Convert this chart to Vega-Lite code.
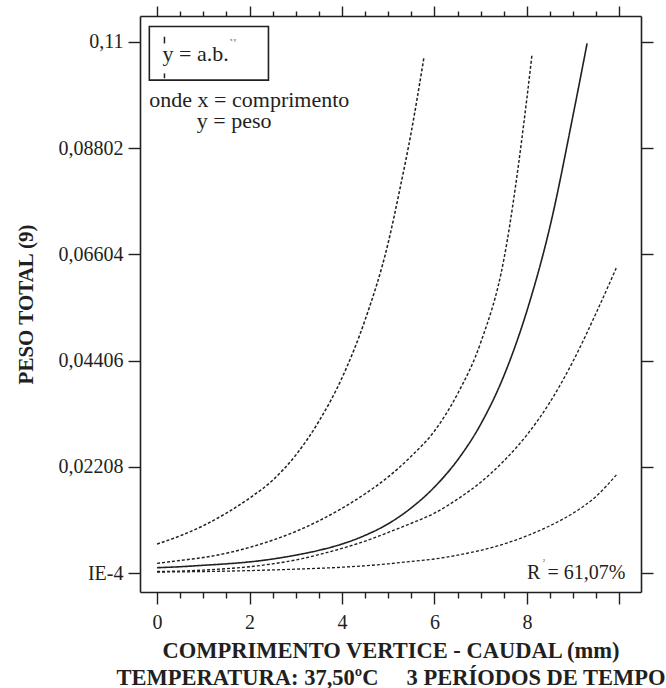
{
  "$schema": "https://vega.github.io/schema/vega-lite/v6.json",
  "width": 501,
  "height": 576,
  "autosize": {"type": "none"},
  "padding": {"left": 140, "top": 16, "right": 25, "bottom": 96},
  "background": "white",
  "config": {
    "view": {"stroke": null},
    "font": "Liberation Serif",
    "axis": {
      "domainColor": "#231f20", "domainWidth": 1.6,
      "tickColor": "#231f20", "tickWidth": 1.4,
      "labelColor": "#231f20", "titleColor": "#231f20",
      "labelFont": "Liberation Serif", "titleFont": "Liberation Serif",
      "grid": false, "labelFontSize": 20
    }
  },
  "datasets": {
    "curves": [
      {"curve": "ajuste", "x": 0, "y": 0.0012}, {"curve": "ajuste", "x": 0.5, "y": 0.0014}, {"curve": "ajuste", "x": 1, "y": 0.0017}, {"curve": "ajuste", "x": 1.5, "y": 0.002}, {"curve": "ajuste", "x": 2, "y": 0.0024}, {"curve": "ajuste", "x": 2.5, "y": 0.003}, {"curve": "ajuste", "x": 3, "y": 0.0038}, {"curve": "ajuste", "x": 3.5, "y": 0.0048}, {"curve": "ajuste", "x": 4, "y": 0.0061}, {"curve": "ajuste", "x": 4.5, "y": 0.0079}, {"curve": "ajuste", "x": 5, "y": 0.0103}, {"curve": "ajuste", "x": 5.5, "y": 0.0136}, {"curve": "ajuste", "x": 6, "y": 0.0179}, {"curve": "ajuste", "x": 6.5, "y": 0.0235}, {"curve": "ajuste", "x": 7, "y": 0.0309}, {"curve": "ajuste", "x": 7.5, "y": 0.0409}, {"curve": "ajuste", "x": 8, "y": 0.0544}, {"curve": "ajuste", "x": 8.5, "y": 0.0719}, {"curve": "ajuste", "x": 9, "y": 0.095}, {"curve": "ajuste", "x": 9.3, "y": 0.1097},
      {"curve": "sup1", "x": 0, "y": 0.0061}, {"curve": "sup1", "x": 0.5, "y": 0.0078}, {"curve": "sup1", "x": 1, "y": 0.0099}, {"curve": "sup1", "x": 1.5, "y": 0.0125}, {"curve": "sup1", "x": 2, "y": 0.0156}, {"curve": "sup1", "x": 2.5, "y": 0.0193}, {"curve": "sup1", "x": 3, "y": 0.0245}, {"curve": "sup1", "x": 3.5, "y": 0.0315}, {"curve": "sup1", "x": 4, "y": 0.0405}, {"curve": "sup1", "x": 4.5, "y": 0.0525}, {"curve": "sup1", "x": 5, "y": 0.0685}, {"curve": "sup1", "x": 5.25, "y": 0.0795}, {"curve": "sup1", "x": 5.5, "y": 0.0915}, {"curve": "sup1", "x": 5.77, "y": 0.1067},
      {"curve": "sup2", "x": 0, "y": 0.0021}, {"curve": "sup2", "x": 0.5, "y": 0.0027}, {"curve": "sup2", "x": 1, "y": 0.0033}, {"curve": "sup2", "x": 1.5, "y": 0.0042}, {"curve": "sup2", "x": 2, "y": 0.0054}, {"curve": "sup2", "x": 2.5, "y": 0.0069}, {"curve": "sup2", "x": 3, "y": 0.0087}, {"curve": "sup2", "x": 3.5, "y": 0.0109}, {"curve": "sup2", "x": 4, "y": 0.0135}, {"curve": "sup2", "x": 4.5, "y": 0.0165}, {"curve": "sup2", "x": 5, "y": 0.02}, {"curve": "sup2", "x": 5.5, "y": 0.0243}, {"curve": "sup2", "x": 6, "y": 0.0295}, {"curve": "sup2", "x": 6.5, "y": 0.0372}, {"curve": "sup2", "x": 7, "y": 0.0478}, {"curve": "sup2", "x": 7.5, "y": 0.065}, {"curve": "sup2", "x": 8, "y": 0.0985}, {"curve": "sup2", "x": 8.11, "y": 0.1075},
      {"curve": "inf1", "x": 0, "y": 0.0004}, {"curve": "inf1", "x": 0.5, "y": 0.0005}, {"curve": "inf1", "x": 1, "y": 0.0007}, {"curve": "inf1", "x": 1.5, "y": 0.001}, {"curve": "inf1", "x": 2, "y": 0.0014}, {"curve": "inf1", "x": 2.5, "y": 0.002}, {"curve": "inf1", "x": 3, "y": 0.0028}, {"curve": "inf1", "x": 3.5, "y": 0.0039}, {"curve": "inf1", "x": 4, "y": 0.0052}, {"curve": "inf1", "x": 4.5, "y": 0.0067}, {"curve": "inf1", "x": 5, "y": 0.0085}, {"curve": "inf1", "x": 5.5, "y": 0.0104}, {"curve": "inf1", "x": 6, "y": 0.0125}, {"curve": "inf1", "x": 6.5, "y": 0.0154}, {"curve": "inf1", "x": 7, "y": 0.0189}, {"curve": "inf1", "x": 7.5, "y": 0.0233}, {"curve": "inf1", "x": 8, "y": 0.0287}, {"curve": "inf1", "x": 8.5, "y": 0.0355}, {"curve": "inf1", "x": 9, "y": 0.044}, {"curve": "inf1", "x": 9.5, "y": 0.054}, {"curve": "inf1", "x": 9.93, "y": 0.0632},
      {"curve": "inf2", "x": 0, "y": 0.0003}, {"curve": "inf2", "x": 1, "y": 0.0004}, {"curve": "inf2", "x": 2, "y": 0.0006}, {"curve": "inf2", "x": 3, "y": 0.0009}, {"curve": "inf2", "x": 4, "y": 0.0013}, {"curve": "inf2", "x": 4.5, "y": 0.0016}, {"curve": "inf2", "x": 5, "y": 0.002}, {"curve": "inf2", "x": 5.5, "y": 0.0025}, {"curve": "inf2", "x": 6, "y": 0.003}, {"curve": "inf2", "x": 6.5, "y": 0.0038}, {"curve": "inf2", "x": 7, "y": 0.0048}, {"curve": "inf2", "x": 7.5, "y": 0.0061}, {"curve": "inf2", "x": 8, "y": 0.0078}, {"curve": "inf2", "x": 8.5, "y": 0.0099}, {"curve": "inf2", "x": 9, "y": 0.0125}, {"curve": "inf2", "x": 9.5, "y": 0.016}, {"curve": "inf2", "x": 9.95, "y": 0.0206}
    ],
    "notes": [
      {"text": "y = a.b.", "x": 0.117, "y": 0.106},
      {"text": "onde x = comprimento", "x": -0.167, "y": 0.0965},
      {"text": "y = peso", "x": 0.86, "y": 0.0921}
    ]
  },
  "resolve": {"axis": {"x": "independent", "y": "independent"}},
  "layer": [
    {
      "data": {"name": "curves"},
      "mark": {"type": "line", "color": "#231f20", "clip": true, "interpolate": "monotone"},
      "encoding": {
        "x": {
          "field": "x", "type": "quantitative",
          "scale": {"domain": [-0.369, 10.466], "nice": false, "zero": false},
          "axis": {
            "orient": "bottom",
            "values": [0, 0.5, 1, 1.5, 2, 2.5, 3, 3.5, 4, 4.5, 5, 5.5, 6, 6.5, 7, 7.5, 8, 8.5, 9, 9.5, 10],
            "tickSize": {"condition": {"test": "datum.value % 2 === 0", "value": 12}, "value": 6},
            "labelExpr": "datum.value % 2 === 0 && datum.value < 10 ? toString(datum.value) : ''",
            "labelPadding": 8,
            "labelFontSize": 20,
            "title": ["COMPRIMENTO VERTICE - CAUDAL (mm)", "TEMPERATURA: 37,50ºC\u00a0\u00a0\u00a0\u00a0 3 PERÍODOS DE TEMPO"],
            "titleFontSize": 22.5,
            "titleFontWeight": "bold",
            "titlePadding": 7,
            "titleLineHeight": 27
          }
        },
        "y": {
          "field": "y", "type": "quantitative",
          "scale": {"domain": [-0.00383, 0.11538], "nice": false, "zero": false},
          "axis": {
            "orient": "left",
            "values": [0.0001, 0.02208, 0.04406, 0.06604, 0.08802, 0.11],
            "tickSize": 12,
            "labelExpr": "datum.value < 0.001 ? 'IE-4' : replace(format(datum.value, '.5~f'), '.', ',')",
            "labelPadding": 5,
            "labelFontSize": 20,
            "title": "PESO TOTAL (9)",
            "titleFontSize": 21,
            "titleFontWeight": "bold",
            "titlePadding": 22
          }
        },
        "detail": {"field": "curve", "type": "nominal"},
        "strokeDash": {
          "field": "curve", "type": "nominal",
          "scale": {"domain": ["ajuste", "sup1", "sup2", "inf1", "inf2"], "range": [[1, 0], [3, 2], [3, 2], [3, 2], [3, 2]]},
          "legend": null
        },
        "strokeWidth": {
          "field": "curve", "type": "nominal",
          "scale": {"domain": ["ajuste", "sup1", "sup2", "inf1", "inf2"], "range": [1.6, 1.3, 1.3, 1.3, 1.3]},
          "legend": null
        }
      }
    },
    {
      "data": {"name": "curves"},
      "mark": {"type": "point", "opacity": 0},
      "encoding": {
        "x": {
          "field": "x", "type": "quantitative",
          "axis": {
            "orient": "top",
            "values": [0, 0.5, 1, 1.5, 2, 2.5, 3, 3.5, 4, 4.5, 5, 5.5, 6, 6.5, 7, 7.5, 8, 8.5, 9, 9.5, 10],
            "tickSize": {"condition": {"test": "datum.value % 2 === 0", "value": 10}, "value": 5},
            "labels": false,
            "title": null
          }
        },
        "y": {
          "field": "y", "type": "quantitative",
          "axis": {
            "orient": "right",
            "values": [0.0001, 0.02208, 0.04406, 0.06604, 0.08802, 0.11],
            "tickSize": 12,
            "labels": false,
            "title": null
          }
        }
      }
    },
    {
      "data": {"values": [{}]},
      "mark": {"type": "rect", "filled": false, "stroke": "#231f20", "strokeWidth": 1.6},
      "encoding": {
        "x": {"datum": -0.167, "type": "quantitative", "axis": null},
        "x2": {"datum": 2.409},
        "y": {"datum": 0.1132, "type": "quantitative", "axis": null},
        "y2": {"datum": 0.1021}
      }
    },
    {
      "data": {"values": [{}]},
      "mark": {"type": "rule", "color": "#231f20", "strokeWidth": 1.5},
      "encoding": {
        "x": {"datum": 0.16, "type": "quantitative", "axis": null},
        "y": {"datum": 0.1111, "type": "quantitative", "axis": null},
        "y2": {"datum": 0.1097}
      }
    },
    {
      "data": {"values": [{}]},
      "mark": {"type": "rule", "color": "#231f20", "strokeWidth": 1.5},
      "encoding": {
        "x": {"datum": 0.16, "type": "quantitative", "axis": null},
        "y": {"datum": 0.1035, "type": "quantitative", "axis": null},
        "y2": {"datum": 0.1025}
      }
    },
    {
      "data": {"name": "notes"},
      "mark": {"type": "text", "align": "left", "baseline": "alphabetic", "font": "Liberation Serif", "fontSize": 22, "color": "#231f20"},
      "encoding": {
        "x": {"field": "x", "type": "quantitative", "axis": null},
        "y": {"field": "y", "type": "quantitative", "axis": null},
        "text": {"field": "text"}
      }
    },
    {
      "data": {"values": [{}]},
      "mark": {"type": "text", "align": "left", "baseline": "alphabetic", "font": "Liberation Serif", "fontSize": 5, "color": "#231f20"},
      "encoding": {
        "x": {"datum": 1.58, "type": "quantitative", "axis": null},
        "y": {"datum": 0.1102, "type": "quantitative", "axis": null},
        "text": {"value": "x y"}
      }
    },
    {
      "data": {"values": [{}]},
      "mark": {"type": "text", "align": "left", "baseline": "alphabetic", "font": "Liberation Serif", "fontSize": 20, "color": "#231f20"},
      "encoding": {
        "x": {"datum": 8.0, "type": "quantitative", "axis": null},
        "y": {"datum": -0.0012, "type": "quantitative", "axis": null},
        "text": {"value": "R"}
      }
    },
    {
      "data": {"values": [{}]},
      "mark": {"type": "text", "align": "right", "baseline": "alphabetic", "font": "Liberation Serif", "fontSize": 20, "color": "#231f20"},
      "encoding": {
        "x": {"datum": 10.13, "type": "quantitative", "axis": null},
        "y": {"datum": -0.0012, "type": "quantitative", "axis": null},
        "text": {"value": "= 61,07%"}
      }
    },
    {
      "data": {"values": [{}]},
      "mark": {"type": "text", "align": "left", "baseline": "alphabetic", "font": "Liberation Serif", "fontSize": 5, "color": "#231f20"},
      "encoding": {
        "x": {"datum": 8.34, "type": "quantitative", "axis": null},
        "y": {"datum": 0.0024, "type": "quantitative", "axis": null},
        "text": {"value": "2"}
      }
    }
  ]
}
